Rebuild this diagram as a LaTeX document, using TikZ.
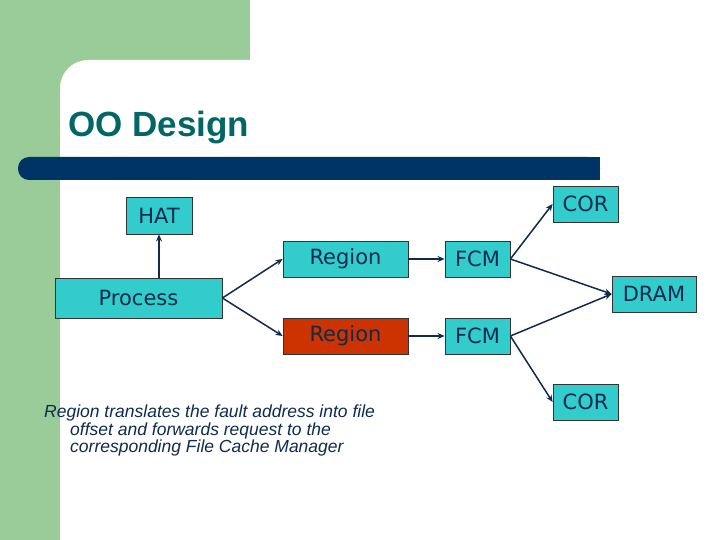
\documentclass[tikz,border=0pt]{standalone}
\usepackage{fontspec}
\setmainfont{Liberation Sans}
\newfontfamily\boxfont{DejaVu Sans}
\usetikzlibrary{arrows.meta}
\begin{document}
\begin{tikzpicture}[x=1pt,y=-1pt,
  bx/.style={draw=black!80,line width=0.8pt,fill=cyanbox,text=navytxt,font=\boxfont\fontsize{21}{24}\selectfont,inner sep=0pt},
  arr/.style={draw=navytxt,line width=1.5pt,-{Stealth[length=7pt,width=6pt]}}]
\definecolor{cyanbox}{HTML}{33CCCC}
\definecolor{navytxt}{HTML}{0F2B4F}
\definecolor{greenbg}{HTML}{99CC99}
\definecolor{barblue}{HTML}{003366}
\definecolor{redbox}{HTML}{CC3300}
\definecolor{titlec}{HTML}{006666}
\useasboundingbox (0,0) rectangle (720,540);
\fill[white] (0,0) rectangle (720,540);
\fill[greenbg] (0,0) rectangle (250,60);
\fill[greenbg] (0,0) rectangle (60,540);
\fill[greenbg] (60,60) rectangle (100,100);
\fill[white,rounded corners=28pt] (60,60) rectangle (300,200);
\fill[white] (60,100) rectangle (100,540);
\fill[white] (100,60) rectangle (300,200);
\node[anchor=west,text=titlec,font=\bfseries\fontsize{35}{40}\selectfont,inner sep=0pt] (title) at (68,128) {OO Design};
\fill[barblue,rounded corners=11pt] (18,157) rectangle (600,180);
\fill[barblue] (300,157) rectangle (600,180);
\node[bx,minimum width=66pt,minimum height=37pt] (hat) at (159,215.5) {HAT};
\node[bx,minimum width=65pt,minimum height=36pt] (cor1) at (585.5,204) {COR};
\node[bx,minimum width=125pt,minimum height=36pt] (reg1) at (345.5,259) {Region};
\node[bx,minimum width=65pt,minimum height=36pt] (fcm1) at (477.5,259) {FCM};
\node[bx,minimum width=167pt,minimum height=40pt] (proc) at (138.5,298) {Process};
\node[bx,minimum width=84pt,minimum height=36pt] (dram) at (654,294) {DRAM};
\node[bx,fill=redbox,minimum width=125pt,minimum height=36pt] (reg2) at (345.5,336) {Region};
\node[bx,minimum width=65pt,minimum height=36pt] (fcm2) at (477.5,336) {FCM};
\node[bx,minimum width=65pt,minimum height=36pt] (cor2) at (585.5,402) {COR};
\draw[arr] (proc.north -| hat) -- (hat.south);
\draw[arr] (proc.east) -- (reg1.west);
\draw[arr] (proc.east) -- (reg2.west);
\draw[arr] (reg1) -- (fcm1);
\draw[arr] (reg2) -- (fcm2);
\draw[arr] (fcm1.east) -- (cor1.west);
\draw[arr] (fcm1.east) -- (dram.west);
\draw[arr] (fcm2.east) -- (dram.west);
\draw[arr] (fcm2.east) -- (cor2.west);
\node[anchor=north west,align=left,font=\itshape\fontsize{17.5}{17.5}\selectfont,text=navytxt,inner sep=0pt] (note) at (44,405)
 {Region translates the fault address into file\\\hspace*{26pt}offset and forwards request to the\\\hspace*{26pt}corresponding File Cache Manager};
\end{tikzpicture}
\end{document}
